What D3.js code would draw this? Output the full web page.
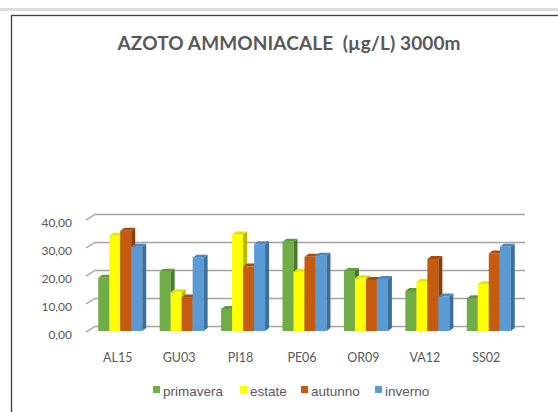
<!DOCTYPE html>
<meta charset="utf-8">
<head>
  <title>azoto ammoniacale</title>
</head>
<style>
  body { margin: 0; background: #fff; }
  text { fill: #595959; }
</style>
<body>
  <svg width="558" height="412"></svg>

  <script src="https://cdnjs.cloudflare.com/ajax/libs/d3/7.8.5/d3.min.js"></script>
  <script>
    var categories = ['AL15', 'GU03', 'PI18', 'PE06', 'OR09', 'VA12', 'SS02'];
    var seriesNames = ['primavera', 'estate', 'autunno', 'inverno'];
    var primavera = [19.0, 21.2, 7.9, 31.9, 21.4, 14.3, 11.7];
    var estate = [34.0, 13.8, 34.5, 21.2, 18.8, 17.6, 16.7];
    var autunno = [35.8, 12.0, 23.0, 26.5, 18.2, 25.7, 27.7];
    var inverno = [30.1, 26.2, 31.0, 26.9, 18.6, 12.3, 30.1];
    var yTicks = [0, 10, 20, 30, 40];

    var frontColor = ['#70AD47', '#FFFF00', '#C55A11', '#5B9BD5'];
    var sideColor = ['#4B7A2E', '#B8B800', '#8A3E0B', '#3E6F9B'];
    var topColor = ['#5F9A3B', '#E6E600', '#A84C0E', '#4C88BF'];

    var svg = d3.select('svg');

    // top strip and chart border
    svg.append('rect').attr('x', 0).attr('y', 8).attr('width', 558).attr('height', 3)
      .style('fill', '#dcdcdc');
    svg.append('rect').attr('x', 11.5).attr('y', 15.5).attr('width', 560).attr('height', 420)
      .style('fill', 'none').style('stroke', '#404040').style('stroke-width', 1.3);

    svg.append('text')
      .attr('x', 289).attr('y', 50)
      .attr('text-anchor', 'middle')
      .attr('textLength', 343)
      .style('white-space', 'pre')
      .style('font-family', 'Lato, sans-serif')
      .style('font-weight', 'bold')
      .style('font-size', '19px')
      .text('AZOTO AMMONIACALE  (\u00B5g/L) 3000m');

    var y = d3.scaleLinear().domain([0, 40]).range([332, 220]);
    var x = d3.scaleBand().domain(categories).range([87, 517])
      .paddingInner(0.284).paddingOuter(0.142);
    var xSub = d3.scaleBand().domain(seriesNames).range([0, x.bandwidth()]);

    var back = { dx: 9, dy: -5.5 };

    // gridlines: side wall diagonal + back wall
    var grid = svg.append('g');
    yTicks.forEach(function(t) {
      var yf = y(t);
      grid.append('path')
        .attr('d', 'M86,' + yf + 'L' + (86 + back.dx) + ',' + (yf + back.dy) +
          'L525,' + (yf + back.dy))
        .style('fill', 'none')
        .style('stroke', '#a3a3a3')
        .style('stroke-width', 1.4);
    });

    var yAxis = d3.axisLeft(y).tickValues(yTicks).tickSize(0)
      .tickFormat(function(d) { return d3.format('.2f')(d).replace('.', ','); });
    var ya = svg.append('g').attr('transform', 'translate(75,3)').call(yAxis);
    ya.select('.domain').remove();
    ya.selectAll('text')
      .style('font-family', 'Lato, sans-serif')
      .style('font-size', '12px')
      .style('fill', '#595959');

    var xAxis = d3.axisBottom(x).tickSize(0);
    var xa = svg.append('g').attr('transform', 'translate(0,350)').call(xAxis);
    xa.select('.domain').remove();
    xa.selectAll('text')
      .attr('dy', '0.71em')
      .style('font-family', 'Lato, sans-serif')
      .style('font-size', '12.5px')
      .style('fill', '#595959');

    var values = [primavera, estate, autunno, inverno];
    var bars = [];
    categories.forEach(function(c, i) {
      seriesNames.forEach(function(s, j) {
        bars.push({ cat: c, s: j, name: s, v: values[j][i] });
      });
    });

    var w = xSub.bandwidth(), dd = { dx: 4, dy: -3 };
    var base = y(0) - 1;
    var g = svg.append('g').selectAll('g').data(bars).enter().append('g');

    g.append('rect')
      .attr('x', function(d) { return x(d.cat) + xSub(d.name) + 2.5; })
      .attr('y', function(d) { return y(d.v) - 1; })
      .attr('width', w)
      .attr('height', function(d) { return base - (y(d.v) - 1); })
      .style('fill', function(d) { return frontColor[d.s]; });

    g.append('path')
      .attr('d', function(d) {
        var x0 = x(d.cat) + xSub(d.name) + 2.5 + w, yt = y(d.v) - 1;
        return 'M' + x0 + ',' + yt + 'L' + (x0 + dd.dx) + ',' + (yt + dd.dy) +
          'L' + (x0 + dd.dx) + ',' + (base + dd.dy) + 'L' + x0 + ',' + base + 'Z';
      })
      .style('fill', function(d) { return sideColor[d.s]; });

    g.append('path')
      .attr('d', function(d) {
        var x0 = x(d.cat) + xSub(d.name) + 2.5, yt = y(d.v) - 1;
        return 'M' + x0 + ',' + yt + 'L' + (x0 + dd.dx) + ',' + (yt + dd.dy) +
          'L' + (x0 + w + dd.dx) + ',' + (yt + dd.dy) + 'L' + (x0 + w) + ',' + yt + 'Z';
      })
      .style('fill', function(d) { return topColor[d.s]; });

    // legend
    var legendX = [153, 240, 301, 375];
    var leg = svg.append('g').selectAll('g').data(seriesNames).enter().append('g')
      .attr('transform', function(d, i) { return 'translate(' + legendX[i] + ',386)'; });
    leg.append('rect').attr('width', 7).attr('height', 7)
      .style('fill', function(d, i) { return frontColor[i]; });
    leg.append('text').attr('x', 10).attr('y', 10)
      .style('font-family', '"Liberation Sans", Arial, sans-serif')
      .style('font-size', '13.5px')
      .text(function(d) { return d; });
  </script>
</body>
</html>
